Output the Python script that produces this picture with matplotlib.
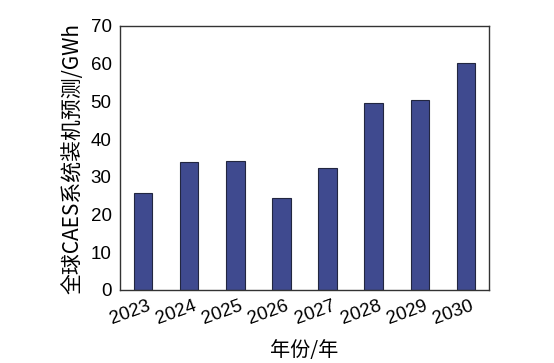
import matplotlib
matplotlib.use("Agg")
import matplotlib.pyplot as plt
from matplotlib.transforms import ScaledTranslation

years = ["2023", "2024", "2025", "2026", "2027", "2028", "2029", "2030"]
capacity = [25.7, 33.9, 34.2, 24.4, 32.4, 49.6, 50.4, 60.3]

plt.rcParams['font.family'] = ['Liberation Sans', 'Noto Sans CJK SC', 'DejaVu Sans']

fig = plt.figure(figsize=(5.54, 3.63), dpi=100)
ax = fig.add_axes([120 / 554, 1 - 290 / 363, 369 / 554, 264 / 363])

x = range(len(years))
ax.bar(x, capacity, width=0.4, color="#3f4a8f", edgecolor="#222640", linewidth=0.8)

ax.set_xlim(-0.5, len(years) - 0.5)
ax.set_ylim(0, 70)
ax.set_yticks(range(0, 71, 10))
ax.set_xticks(list(x))
ax.set_xticklabels(years, rotation=20, ha="right", va="top", rotation_mode="anchor")
ax.tick_params(length=0, labelsize=13.5)
ax.tick_params(axis="x", pad=5.5)
ax.tick_params(axis="y", pad=6)
# nudge the slanted year labels a bit to the right
shift = ScaledTranslation(4 / 100, 0, fig.dpi_scale_trans)
for lbl in ax.get_xticklabels():
    lbl.set_transform(lbl.get_transform() + shift)
for s in ax.spines.values():
    s.set_linewidth(1.0)
    s.set_color("#333333")

ax.set_ylabel("全球CAES系统装机预测/GWh", fontsize=15,
              family=['Noto Sans CJK SC', 'DejaVu Sans'], labelpad=5)
ax.set_xlabel("年份/年", fontsize=14.5, family=['Noto Sans CJK SC', 'DejaVu Sans'])
ax.xaxis.set_label_coords(0.5, -0.19)

fig.savefig("out.png", dpi=100)
